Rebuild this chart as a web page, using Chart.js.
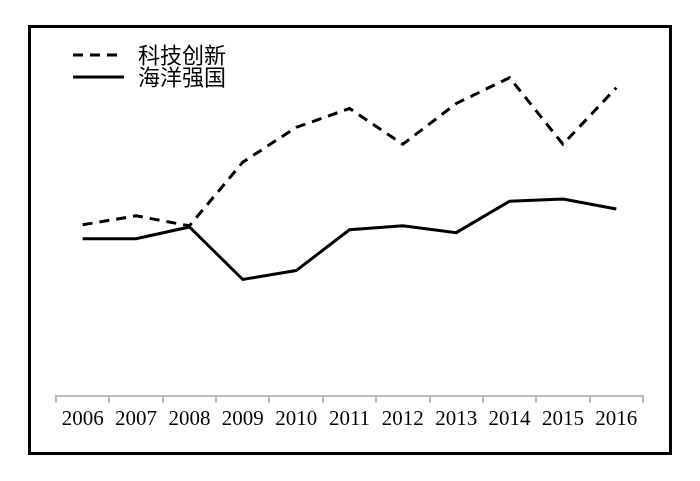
<!DOCTYPE html>
<html>
<head>
<meta charset="utf-8">
<script src="https://cdn.jsdelivr.net/npm/chart.js@4.4.0/dist/chart.umd.min.js"></script>
<style>
  html, body { margin: 0; padding: 0; background: #fff; }
  #wrap { width: 700px; height: 481px; position: relative; }
</style>
</head>
<body>
<div id="wrap"><canvas id="chart" width="700" height="481"></canvas></div>
<script>
// ----------------------
// DATA
// ----------------------
const years = ['2006', '2007', '2008', '2009', '2010', '2011', '2012', '2013', '2014', '2015', '2016'];
const techLabel = '科技创新';
const techValues = [47.8, 50.3, 47.5, 65.3, 75.0, 80.3, 70.3, 81.7, 88.9, 70.3, 86.1];
const oceanLabel = '海洋强国';
const oceanValues = [43.9, 43.9, 47.2, 32.5, 35.0, 46.4, 47.5, 45.6, 54.4, 55.0, 52.2];

// ----------------------
// PLUGINS
// ----------------------
const frameAndLegend = {
  id: 'frameAndLegend',
  afterDraw(chart) {
    const { ctx } = chart;
    ctx.save();
    // outer frame
    ctx.strokeStyle = '#000';
    ctx.lineWidth = 3;
    ctx.setLineDash([]);
    ctx.strokeRect(29.5, 26.5, 641, 427);

    // legend
    const rows = [
      { text: techLabel, dash: [10, 7], y: 55 },
      { text: oceanLabel, dash: [], y: 77 }
    ];
    ctx.font = '22px "Noto Sans CJK SC"';
    ctx.textBaseline = 'middle';
    ctx.fillStyle = '#000';
    rows.forEach(r => {
      ctx.beginPath();
      ctx.setLineDash(r.dash);
      ctx.lineWidth = 3;
      ctx.moveTo(73, r.y);
      ctx.lineTo(124, r.y);
      ctx.stroke();
      ctx.setLineDash([]);
      ctx.fillText(r.text, 138, r.y);
    });
    ctx.restore();
  }
};

// ----------------------
// CHART
// ----------------------
const ctx = document.getElementById('chart').getContext('2d');
new Chart(ctx, {
  type: 'line',
  data: {
    labels: years,
    datasets: [
      {
        label: techLabel,
        data: techValues,
        borderColor: '#000',
        borderWidth: 3,
        borderDash: [10, 7],
        pointRadius: 0,
        tension: 0,
        fill: false
      },
      {
        label: oceanLabel,
        data: oceanValues,
        borderColor: '#000',
        borderWidth: 3,
        pointRadius: 0,
        tension: 0,
        fill: false
      }
    ]
  },
  options: {
    responsive: false,
    animation: false,
    layout: { padding: { top: 38, left: 56, right: 57, bottom: 45 } },
    plugins: { legend: { display: false }, tooltip: { enabled: false } },
    scales: {
      x: {
        offset: true,
        border: { display: true, color: '#bbb', width: 2 },
        grid: {
          offset: true,
          drawOnChartArea: false,
          drawTicks: true,
          tickLength: 7,
          color: '#bbb',
          lineWidth: 2
        },
        ticks: {
          color: '#000',
          font: { family: '"Liberation Serif"', size: 21 },
          padding: 4,
          maxRotation: 0,
          autoSkip: false
        }
      },
      y: {
        display: false,
        min: 0,
        max: 100
      }
    }
  },
  plugins: [frameAndLegend]
});
</script>
</body>
</html>
